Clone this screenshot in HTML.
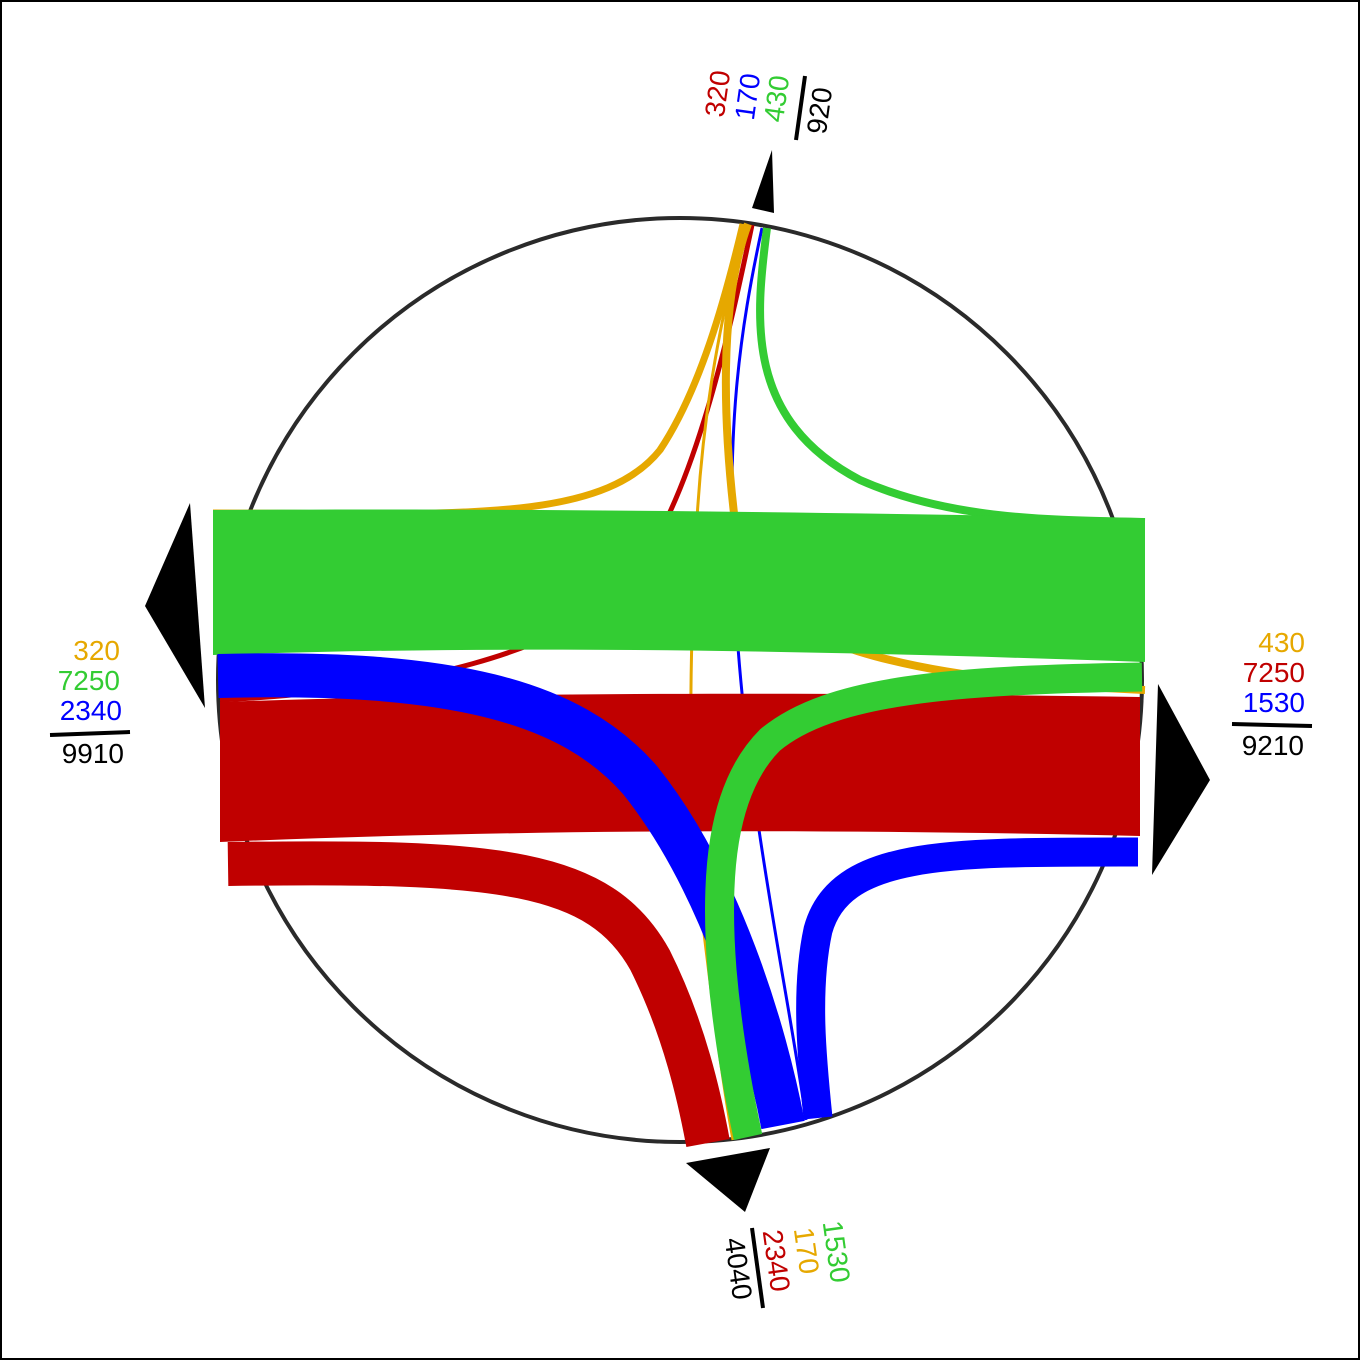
<!DOCTYPE html>
<html><head><meta charset="utf-8"><style>
html,body{margin:0;padding:0;background:#fff}
svg{display:block}
text{font-family:"Liberation Sans",sans-serif;font-size:28px}
</style></head><body>
<svg width="1360" height="1360" viewBox="0 0 1360 1360" xmlns="http://www.w3.org/2000/svg">
<rect x="1" y="1" width="1358" height="1358" fill="#fff" stroke="#000" stroke-width="2"/>
<circle cx="680" cy="680" r="462" fill="none" stroke="#2a2a2a" stroke-width="4"/>
<g fill="none" stroke-linecap="butt">
 <path d="M213,513 C450,513 600,525 660,450 C700,390 725,300 743,224" stroke="#e6a800" stroke-width="7"/>
 <path d="M220,700 C420,690 560,650 620,590 C690,520 730,330 752,225" stroke="#c00000" stroke-width="5"/>
 <path d="M762,228 C740,330 725,430 735,600 C745,800 790,1000 806,1120" stroke="#0000ff" stroke-width="3"/>
 <path d="M767,228 C755,320 745,420 860,480 C950,520 1050,520 1145,522" stroke="#33cc33" stroke-width="8"/>
 <path d="M748,224 C720,300 720,420 740,560 C760,640 900,680 1145,690" stroke="#e6a800" stroke-width="8"/>
 <path d="M745,224 C720,320 700,420 695,560 C688,700 690,800 700,900 C712,1000 722,1080 733,1140" stroke="#e6a800" stroke-width="3"/>
</g>
<path d="M213,510 C500,508 800,512 1145,518 L1145,662 C800,650 500,645 213,655 Z" fill="#33cc33"/>
<path d="M220,702 C500,692 800,692 1140,697 L1140,836 C800,828 500,830 220,842 Z" fill="#c00000"/>
<path d="M228,864 C500,860 600,870 650,960 C685,1030 700,1100 708,1143" stroke="#c00000" stroke-width="44" fill="none"/>
<path d="M218,676 C450,670 570,700 640,780 C720,880 765,1030 783,1125" stroke="#0000ff" stroke-width="44" fill="none"/>
<path d="M1138,852 C950,852 840,850 818,930 C805,990 812,1060 818,1118" stroke="#0000ff" stroke-width="29" fill="none"/>
<path d="M1142,677 C950,680 830,690 770,740 C720,790 715,880 722,970 C728,1040 740,1100 748,1137" stroke="#33cc33" stroke-width="29" fill="none"/>
<polygon points="772,150 752,208 774,213" fill="#000"/>
<polygon points="190,503 145,606 205,708" fill="#000"/>
<polygon points="1158,684 1210,780 1152,875" fill="#000"/>
<polygon points="686,1163 770,1148 745,1212" fill="#000"/>
<g text-anchor="end">
<text x="120" y="660" fill="#e6a800">320</text>
<text x="120" y="690" fill="#33cc33">7250</text>
<text x="122" y="720" fill="#0000ff">2340</text>
<text x="124" y="763" fill="#000">9910</text>
<text x="1305" y="652" fill="#e6a800">430</text>
<text x="1305" y="682" fill="#c00000">7250</text>
<text x="1305" y="712" fill="#0000ff">1530</text>
<text x="1304" y="755" fill="#000">9210</text>
</g>
<line x1="50" y1="735" x2="130" y2="732" stroke="#000" stroke-width="4"/>
<line x1="1232" y1="724" x2="1312" y2="726" stroke="#000" stroke-width="4"/>
<g text-anchor="middle">
<text transform="translate(727,95) rotate(-82)" fill="#c00000">320</text>
<text transform="translate(757,98) rotate(-82)" fill="#0000ff">170</text>
<text transform="translate(786,100) rotate(-82)" fill="#33cc33">430</text>
<text transform="translate(829,112) rotate(-82)" fill="#000">920</text>
<text transform="translate(729,1270) rotate(82)" fill="#000">4040</text>
<text transform="translate(767,1262) rotate(82)" fill="#c00000">2340</text>
<text transform="translate(797,1252) rotate(82)" fill="#e6a800">170</text>
<text transform="translate(827,1253) rotate(82)" fill="#33cc33">1530</text>
</g>
<line x1="805" y1="76" x2="796" y2="140" stroke="#000" stroke-width="4"/>
<line x1="752" y1="1228" x2="763" y2="1308" stroke="#000" stroke-width="4"/>
</svg>
</body></html>
